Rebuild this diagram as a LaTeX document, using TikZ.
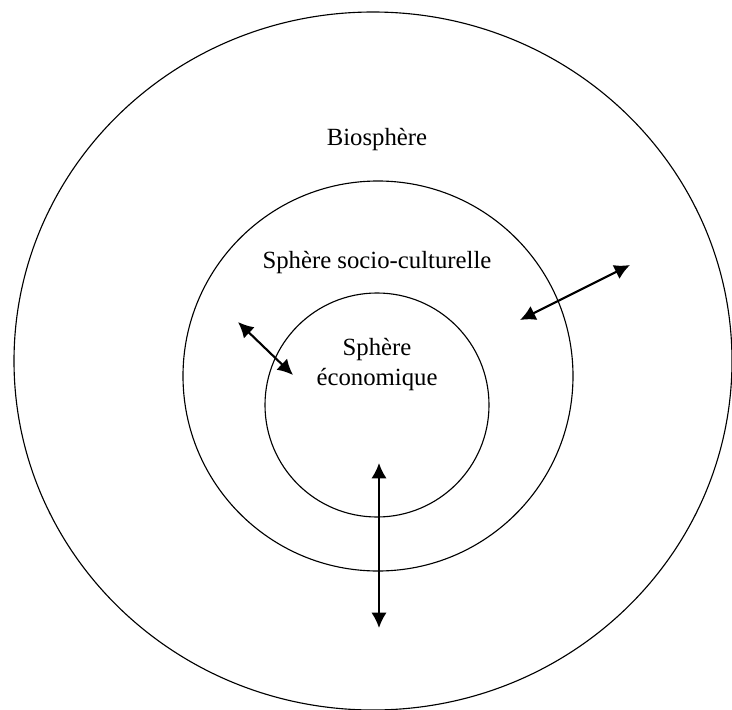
\documentclass[tikz,border=0pt]{standalone}
\usepackage{fontspec}
\setmainfont{Liberation Serif}
\usetikzlibrary{arrows.meta}

\begin{document}
\begin{tikzpicture}[x=0.025cm, y=-0.025cm,
    ring/.style={draw, line width=0.8pt},
    txt/.style={font=\fontsize{17.6}{21.3}\selectfont, align=center, inner sep=0pt},
    flow/.style={{Latex[length=11pt,width=11pt]}-{Latex[length=11pt,width=11pt]}, line width=1.5pt}]
\useasboundingbox (0,0) rectangle (732,710);
% spheres
\draw[ring] (373,361) ellipse [x radius=359, y radius=349];
\draw[ring] (378,376) circle [radius=195];
\draw[ring] (377,405) circle [radius=112];
% labels
\node[txt] (bio)   at (377,140) {Biosphère};
\node[txt] (socio) at (377,263) {Sphère socio-culturelle};
\node[txt] (eco)   at (377,365) {Sphère\\économique};
% exchanges
\coordinate (a1) at (238,322); \coordinate (a2) at (293,375);
\coordinate (b1) at (520,320); \coordinate (b2) at (630,265);
\coordinate (c1) at (379,463); \coordinate (c2) at (379,628);
\draw[flow] (a1) -- (a2);
\draw[flow] (b1) -- (b2);
\draw[flow] (c1) -- (c2);
\end{tikzpicture}
\end{document}
